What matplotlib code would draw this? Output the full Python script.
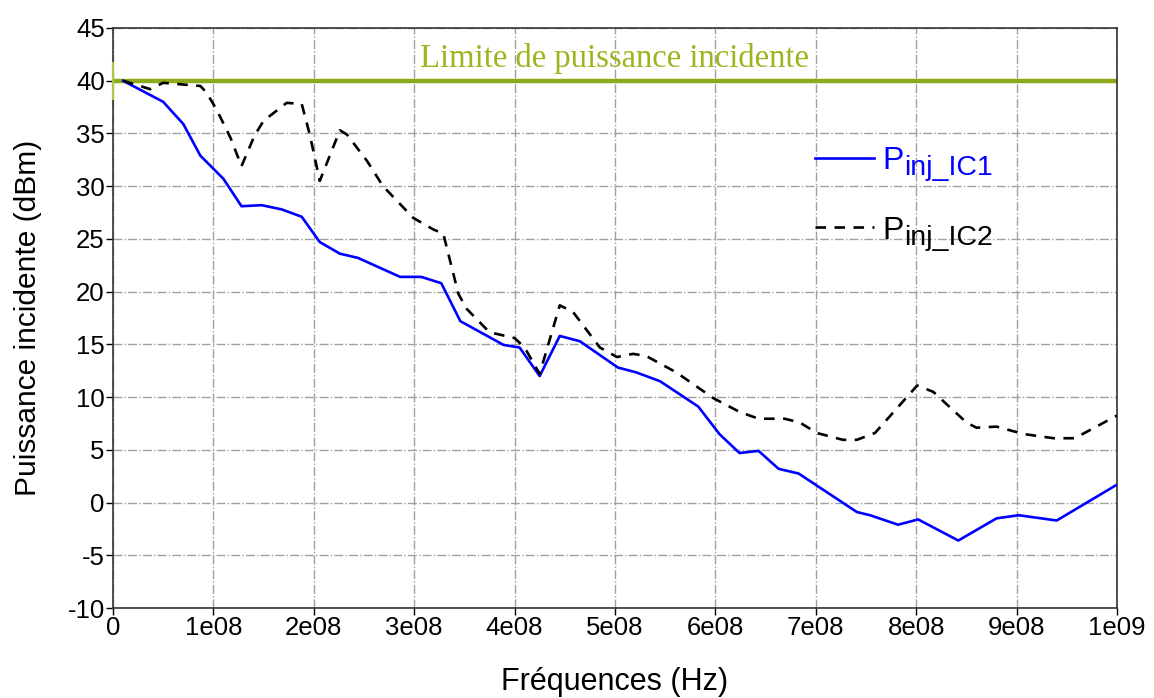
import matplotlib
matplotlib.use("Agg")
import matplotlib.pyplot as plt

# ── Data ──────────────────────────────────────────────────────────────────────
freq_ic1 = [10e6, 50e6, 70e6, 87e6, 110e6, 128e6, 148e6, 168e6, 188e6, 206e6,
            226e6, 244e6, 286e6, 307e6, 327e6, 346e6, 389e6, 405e6, 425e6, 445e6,
            465e6, 503e6, 521e6, 545e6, 583e6, 604e6, 624e6, 643e6, 663e6, 683e6,
            741e6, 754e6, 782e6, 802e6, 842e6, 880e6, 902e6, 940e6, 1000e6]
p_ic1 = [40.0, 38.0, 35.9, 32.9, 30.7, 28.1, 28.2, 27.8, 27.1, 24.7,
         23.6, 23.2, 21.4, 21.4, 20.8, 17.2, 14.95, 14.7, 12.0, 15.8,
         15.3, 12.8, 12.35, 11.5, 9.1, 6.5, 4.7, 4.9, 3.2, 2.75,
         -0.9, -1.2, -2.1, -1.6, -3.6, -1.5, -1.2, -1.7, 1.7]

freq_ic2 = [10e6, 37e6, 50e6, 87e6, 93e6, 103e6, 117e6, 128e6, 141e6, 150e6,
            173e6, 188e6, 196e6, 206e6, 226e6, 233e6, 253e6, 269e6, 299e6, 319e6,
            329e6, 344e6, 352e6, 375e6, 400e6, 410e6, 425e6, 445e6, 458e6, 485e6,
            502e6, 518e6, 531e6, 561e6, 598e6, 624e6, 643e6, 669e6, 684e6, 701e6,
            727e6, 741e6, 759e6, 801e6, 817e6, 850e6, 860e6, 880e6, 907e6, 937e6,
            958e6, 1000e6]
p_ic2 = [40.0, 39.2, 39.8, 39.5, 38.9, 37.3, 34.6, 31.9, 34.8, 36.2,
         37.9, 37.8, 34.9, 30.5, 35.3, 34.9, 32.4, 30.0, 27.0, 25.9,
         25.5, 19.8, 18.4, 16.15, 15.6, 14.7, 12.2, 18.7, 18.1, 14.7,
         13.8, 14.1, 13.9, 12.35, 9.9, 8.6, 7.95, 7.95, 7.6, 6.6,
         5.95, 5.95, 6.6, 11.1, 10.5, 7.6, 7.1, 7.2, 6.5, 6.1,
         6.1, 8.25]

p_limit = 40.0
x_ticks = [0, 1e8, 2e8, 3e8, 4e8, 5e8, 6e8, 7e8, 8e8, 9e8, 1e9]
x_labels = ["0", "1e08", "2e08", "3e08", "4e08", "5e08", "6e08", "7e08",
            "8e08", "9e08", "1e09"]
y_ticks = list(range(-10, 50, 5))
series_names = ["inj_IC1", "inj_IC2"]

# ── Style ─────────────────────────────────────────────────────────────────────
plt.rcParams["font.family"] = ["Liberation Sans", "DejaVu Sans"]
plt.rcParams["axes.unicode_minus"] = False

GREEN = "#8DAA1B"
GREEN_TXT = "#9BB51F"
GREEN_MARK = "#A9C844"
BLUE = "#0000FF"

fig = plt.figure(figsize=(11.54, 6.98), dpi=100)
ax = fig.add_axes([0.0979, 0.1289, 0.8700, 0.8310])

ax.grid(True, color="#A0A0A0", linestyle="-.", linewidth=1.0)
ax.set_axisbelow(True)

# incident power limit
ax.axhline(p_limit, color=GREEN, lw=3.2, zorder=2)
ax.plot([0], [p_limit], marker="|", markersize=27, markeredgewidth=1.6,
        color=GREEN_MARK, clip_on=False, zorder=3)
ax.text(0.5e9, 41.33, "Limite de puissance incidente", ha="center", va="baseline",
        fontsize=23.5, color=GREEN_TXT, family="Liberation Serif")

l1, = ax.plot(freq_ic1, p_ic1, color=BLUE, lw=1.9, zorder=4)
l2, = ax.plot(freq_ic2, p_ic2, color="black", lw=1.9, linestyle=(0, (4, 3.2)), zorder=4)

# legend: big "P" with the subscript drawn after it (legend is drawn first)
leg = ax.legend([l1, l2], ["P", "P"], loc="upper left", bbox_to_anchor=(0.699, 0.797),
                frameon=False, fontsize=23, handlelength=1.87, handletextpad=0.25,
                labelspacing=1.25, borderpad=0, borderaxespad=0)
for txt, name, col in zip(leg.get_texts(), series_names, [BLUE, "black"]):
    txt.set_color(col)
    ax.annotate(name, xy=(1.0, 0.0), xycoords=txt, xytext=(0.5, 0.5),
                textcoords="offset points", ha="left", va="baseline",
                fontsize=20.5, color=col, zorder=10)

ax.set_xlim(0, 1e9)
ax.set_ylim(-10, 45)
ax.set_xticks(x_ticks)
ax.set_xticklabels(x_labels)
ax.set_yticks(y_ticks)
ax.tick_params(axis="both", labelsize=18.5, direction="out", length=5, width=1, pad=1)
for sp in ax.spines.values():
    sp.set_color("#333333")
    sp.set_linewidth(1.2)

ax.set_xlabel("Fréquences (Hz)", fontsize=22, labelpad=19)
ax.set_ylabel("Puissance incidente (dBm)", fontsize=21.5, labelpad=18)

fig.savefig("out.png", dpi=100, facecolor="white")
